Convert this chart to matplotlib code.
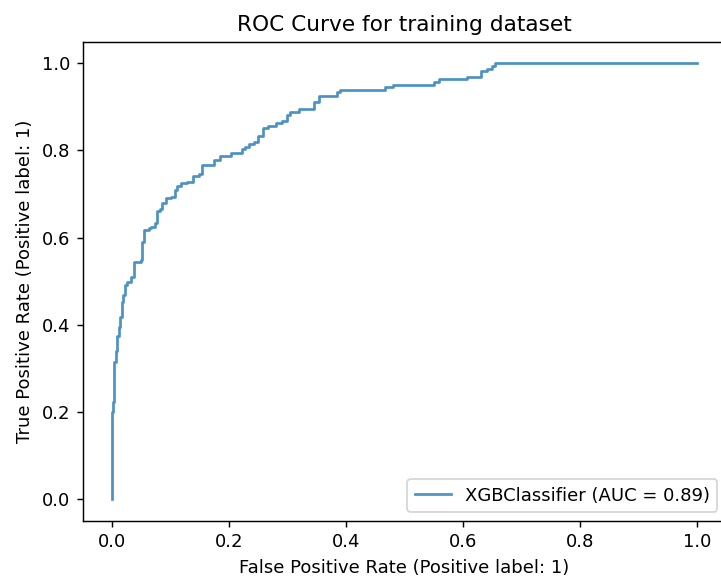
import matplotlib
matplotlib.use("Agg")
import matplotlib.pyplot as plt

# ROC curve vertices (step corners)
step_fpr = [0.0, 0.0, 0.0017, 0.004, 0.0063, 0.0092, 0.0115, 0.0143, 0.0166, 0.019,
            0.0217, 0.0257, 0.032, 0.0378, 0.050, 0.052, 0.0547, 0.063, 0.067, 0.073,
            0.077, 0.0815, 0.086, 0.093, 0.1015, 0.107, 0.111, 0.1186, 0.128, 0.1385,
            0.149, 0.1545, 0.174, 0.184, 0.204, 0.223, 0.227, 0.234, 0.242, 0.249,
            0.258, 0.267, 0.281, 0.290, 0.299, 0.305, 0.319, 0.345, 0.354, 0.384,
            0.390, 0.466, 0.480, 0.551, 0.559, 0.607, 0.630, 0.641, 0.649, 0.655, 1.0]
step_tpr = [0.0, 0.200, 0.223, 0.315, 0.340, 0.373, 0.395, 0.418, 0.453, 0.468,
            0.491, 0.499, 0.510, 0.545, 0.549, 0.590, 0.617, 0.621, 0.625, 0.633,
            0.660, 0.665, 0.679, 0.690, 0.694, 0.709, 0.719, 0.725, 0.728, 0.741,
            0.746, 0.767, 0.779, 0.788, 0.793, 0.803, 0.809, 0.814, 0.819, 0.832,
            0.851, 0.857, 0.862, 0.868, 0.881, 0.888, 0.895, 0.912, 0.926, 0.933,
            0.939, 0.945, 0.951, 0.957, 0.964, 0.969, 0.982, 0.987, 0.993, 1.0, 1.0]

model_name = "XGBClassifier"
auc_value = 0.89
title = "ROC Curve for training dataset"
x_label = "False Positive Rate (Positive label: 1)"
y_label = "True Positive Rate (Positive label: 1)"

# Build step path: rise vertically at each fpr, then move horizontally
fpr = []
tpr = []
prev_y = step_tpr[0]
for x, y in zip(step_fpr, step_tpr):
    fpr.append(x); tpr.append(prev_y)
    fpr.append(x); tpr.append(y)
    prev_y = y

dpi = 130
fig = plt.figure(figsize=(721 / dpi, 577 / dpi), dpi=dpi)
ax = fig.add_axes([82.7 / 721, (577 - 520.8) / 577, (726.5 - 82.7) / 721, (520.8 - 41.5) / 577])
ax.plot(fpr, tpr, color="#1f77b4", alpha=0.8, lw=1.5,
        label=f"{model_name} (AUC = {auc_value:.2f})")
ax.set_xlim(-0.05, 1.05)
ax.set_ylim(-0.05, 1.05)
ax.set_xticks([0.0, 0.2, 0.4, 0.6, 0.8, 1.0])
ax.set_yticks([0.0, 0.2, 0.4, 0.6, 0.8, 1.0])
ax.set_xlabel(x_label)
ax.set_ylabel(y_label)
ax.set_title(title, fontsize=12)
ax.legend(loc="lower right")
fig.savefig("out.png", dpi=dpi)
